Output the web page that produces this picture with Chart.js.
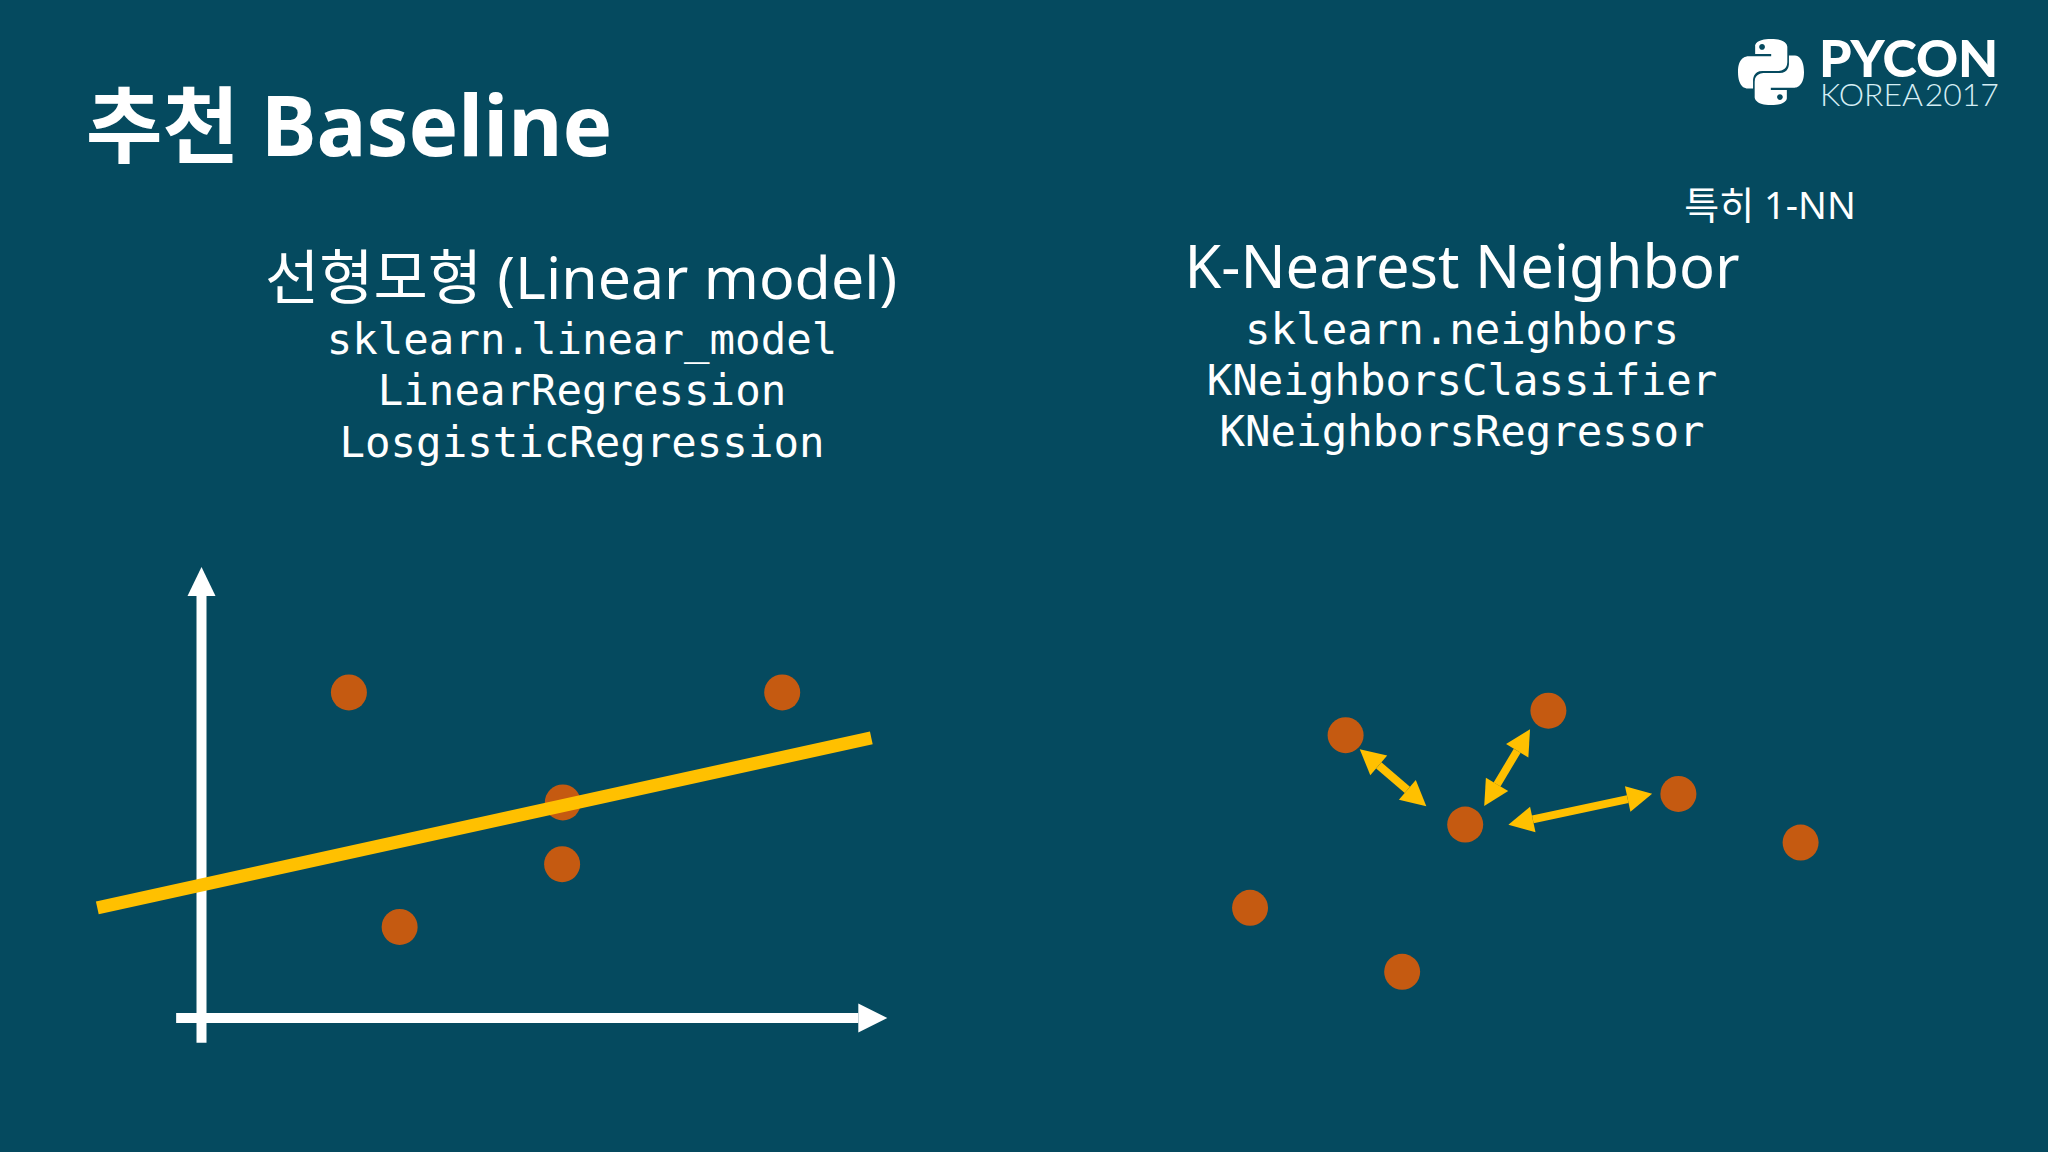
<!DOCTYPE html>
<html lang="ko">
<head>
<meta charset="utf-8">
<title>추천 Baseline</title>
<script src="https://cdn.jsdelivr.net/npm/chart.js@4"></script>
<style>
  html, body { margin: 0; width: 2048px; height: 1152px; overflow: hidden; background: #054a5f; }
  body { position: relative; color: #fff; font-family: "Noto Sans", "Noto Sans CJK KR", sans-serif; }
  canvas { position: absolute; }
  #linear-chart { left: 60px; top: 540px; }
  #knn-chart { left: 1200px; top: 660px; }
  .txt { position: absolute; white-space: nowrap; line-height: 1; transform: translate(-50%, -50%); }
  .code { font-family: "DejaVu Sans Mono", monospace; font-size: 42.4px; }
  .logo { position: absolute; font-family: Lato, sans-serif; white-space: nowrap; line-height: 1; }
</style>
</head>
<body>
  <div class="txt" style="left:349px;top:124px;font-size:83.5px;font-weight:700">추천 Baseline</div>
  <div class="txt" style="left:581px;top:276px;font-size:59px">선형모형 (Linear model)</div>
  <div class="txt code" style="left:582px;top:340px">sklearn.linear_model</div>
  <div class="txt code" style="left:582px;top:391px">LinearRegression</div>
  <div class="txt code" style="left:582px;top:443px">LosgisticRegression</div>
  <div class="txt" style="left:1770px;top:204px;font-size:38px">특히 1-NN</div>
  <div class="txt" style="left:1462px;top:265px;font-size:59.5px">K-Nearest Neighbor</div>
  <div class="txt code" style="left:1462px;top:330px">sklearn.neighbors</div>
  <div class="txt code" style="left:1462px;top:381px">KNeighborsClassifier</div>
  <div class="txt code" style="left:1462px;top:432px">KNeighborsRegressor</div>

  <svg style="position:absolute;left:1738px;top:38px" width="66" height="68" viewBox="0 0 110 110">
    <path id="snake" fill="#fff" d="M54.9 0C26.9 0 28.6 12.2 28.6 12.2v12.6h26.7v3.8H18S0 26.5 0 54.9c0 28.4 15.7 27.4 15.7 27.4h9.4V69.1s-.5-15.7 15.5-15.7h26.6s15 .2 15-14.5V14.6S84.5 0 54.9 0zM40.1 8.5c2.7 0 4.8 2.2 4.8 4.8s-2.2 4.8-4.8 4.8-4.8-2.2-4.8-4.8 2.2-4.8 4.8-4.8z"/>
    <use href="#snake" transform="rotate(180 55 55)"/>
  </svg>
  <div class="logo" style="left:1819px;top:31px;font-size:52px;font-weight:900">PYCON</div>
  <div class="logo" style="left:1820px;top:78px;font-size:32px;font-weight:300;word-spacing:-6px;color:#d5eef5">KOREA 2017</div>

  <canvas id="linear-chart" width="860" height="540"></canvas>
  <canvas id="knn-chart" width="650" height="340"></canvas>

<script>
// left panel, axis units with the origin where the two arrows cross
const linearPointsX = [21.5, 84.7, 52.7, 52.6, 28.9];
const linearPointsY = [72.2, 72.2, 47.8, 34.1, 20.2];
const fitLineX = [-15.2, 97.7];
const fitLineY = [24.4, 62.1];
const xAxisX = [-3.7, 95.8];
const xAxisY = [0, 0];
const yAxisX = [0, 0];
const yAxisY = [-5.5, 93.6];

// right panel
const knnPointsX = [22.4, 53.6, 40.8, 73.6, 92.4, 7.7, 31.1];
const knnPointsY = [77.9, 85.1, 51.6, 60.6, 46.3, 27.1, 8.3];
const arrowAX = [27.5, 31.9];
const arrowAY = [69.0, 61.8];
const arrowBX = [48.8, 45.7];
const arrowBY = [73.3, 63.4];
const arrowCX = [65.8, 51.2];
const arrowCY = [59.1, 53.1];

const ORANGE = '#c55a11';
const YELLOW = '#ffc000';
const WHITE = '#ffffff';

const toXY = (xs, ys) => xs.map((x, i) => ({ x, y: ys[i] }));

function lineSet(xs, ys, color, width, order, heads) {
  return {
    data: toXY(xs, ys),
    showLine: true,
    borderColor: color,
    borderWidth: width,
    pointRadius: 0,
    order,
    heads,
  };
}

function dotSet(xs, ys, order) {
  return {
    data: toXY(xs, ys),
    showLine: false,
    backgroundColor: ORANGE,
    borderWidth: 0,
    pointRadius: 18,
    order,
  };
}

/* Arrow heads sit on the ends of a line dataset, pointing away from it */
const arrowHeads = {
  id: 'arrowHeads',
  afterDatasetsDraw(chart) {
    const ctx = chart.ctx;
    chart.data.datasets.forEach((ds, i) => {
      if (!ds.heads) return;
      const pts = chart.getDatasetMeta(i).data;
      const a = pts[0];
      const b = pts[pts.length - 1];
      const ang = Math.atan2(b.y - a.y, b.x - a.x);
      const drawHead = (p, dir) => {
        ctx.save();
        ctx.translate(p.x, p.y);
        ctx.rotate(dir);
        ctx.fillStyle = ds.borderColor;
        ctx.beginPath();
        ctx.moveTo(ds.heads.len, 0);
        ctx.lineTo(0, -ds.heads.half);
        ctx.lineTo(0, ds.heads.half);
        ctx.closePath();
        ctx.fill();
        ctx.restore();
      };
      drawHead(b, ang);
      if (ds.heads.both) drawHead(a, ang + Math.PI);
    });
  },
};

function panel(id, xRange, yRange, datasets) {
  return new Chart(document.getElementById(id), {
    type: 'scatter',
    data: { datasets },
    plugins: [arrowHeads],
    options: {
      responsive: false,
      animation: false,
      devicePixelRatio: 1,
      layout: { autoPadding: false, padding: 0 },
      plugins: { legend: { display: false }, tooltip: { enabled: false } },
      scales: {
        x: { type: 'linear', display: false, min: xRange[0], max: xRange[1] },
        y: { type: 'linear', display: false, min: yRange[0], max: yRange[1] },
      },
    },
  });
}

panel('linear-chart', [-20.64, 104.8], [-13.75, 106], [
  lineSet(fitLineX, fitLineY, YELLOW, 13, 1),
  dotSet(linearPointsX, linearPointsY, 2),
  lineSet(xAxisX, xAxisY, WHITE, 10, 3, { len: 29, half: 14.5 }),
  lineSet(yAxisX, yAxisY, WHITE, 10, 4, { len: 29, half: 14 }),
]);

const knnHead = { len: 25, half: 13, both: true };
panel('knn-chart', [0, 100], [0, 100], [
  dotSet(knnPointsX, knnPointsY, 2),
  lineSet(arrowAX, arrowAY, YELLOW, 8, 1, knnHead),
  lineSet(arrowBX, arrowBY, YELLOW, 8, 1, knnHead),
  lineSet(arrowCX, arrowCY, YELLOW, 8, 1, knnHead),
]);
</script>
</body>
</html>
